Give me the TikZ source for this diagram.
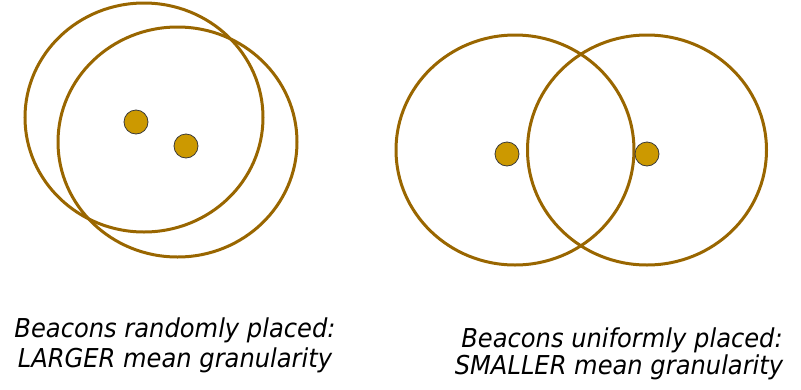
\documentclass[tikz,border=0pt]{standalone}
\usepackage{fontspec}
\setmainfont{DejaVu Sans}
\usetikzlibrary{shapes.geometric}
\definecolor{ring}{HTML}{996600}
\definecolor{beacon}{HTML}{CC9900}
\definecolor{rim}{HTML}{3A3A3A}
\tikzset{
  rangering/.style={draw=ring, line width=3pt, ellipse, inner sep=0pt},
  beaconnode/.style={circle, fill=beacon, draw=rim, line width=0.8pt, minimum size=24pt, inner sep=0pt},
  caption/.style={anchor=base, font=\fontsize{26}{28}\selectfont\itshape, inner sep=0pt, text=black, xscale=0.93}
}
\begin{document}
\begin{tikzpicture}[x=1pt,y=-1pt]
\useasboundingbox (0,0) rectangle (801,389);
% left group
\node[rangering, minimum width=238pt, minimum height=229pt] (L1) at (144,117.5) {};
\node[rangering, minimum width=239pt, minimum height=230pt] (L2) at (177.5,142) {};
\node[beaconnode] (b1) at (136,122) {};
\node[beaconnode] (b2) at (186,146) {};
% right group
\node[rangering, minimum width=238pt, minimum height=230pt] (R1) at (515,150) {};
\node[rangering, minimum width=239pt, minimum height=230pt] (R2) at (647,150) {};
\node[beaconnode] (b3) at (507,154) {};
\node[beaconnode] (b4) at (647,154) {};
% captions
\node[caption] (capL1) at (175,337) {Beacons randomly placed:};
\node[caption] (capL2) at (175,367) {LARGER mean granularity};
\node[caption] (capR1) at (622,347) {Beacons uniformly placed:};
\node[caption] (capR2) at (619,374) {SMALLER mean granularity};
\end{tikzpicture}
\end{document}
